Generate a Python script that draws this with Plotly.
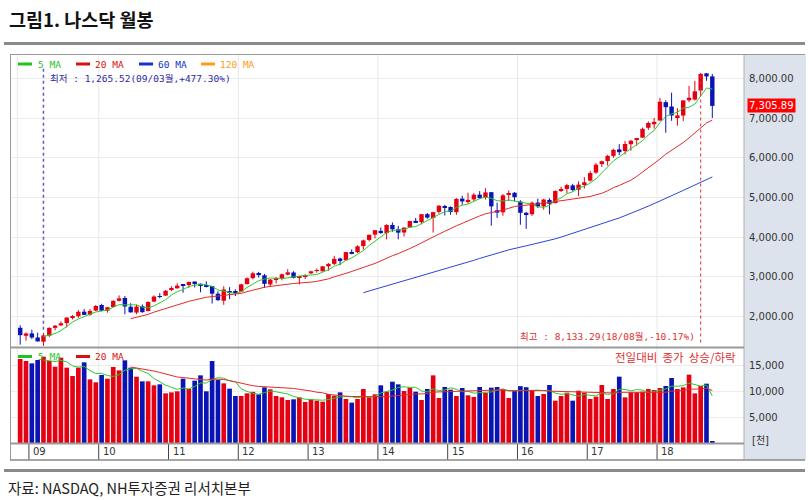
import numpy as np
import pandas as pd
import plotly.graph_objects as go

# ---------------- data ----------------
months = pd.period_range("2008-11", "2018-10", freq="M").strftime("%Y-%m").tolist()

opens = [1720.95, 1519.76, 1578.87, 1476.00, 1370.50, 1520.00, 1719.00, 1780.00, 1840.00, 1980.00,
         2012.00, 2126.00, 2050.00, 2153.00, 2294.00, 2150.00, 2242.00, 2400.00, 2471.00, 2250.00,
         2104.00, 2263.00, 2141.00, 2380.00, 2519.00, 2530.00, 2676.00, 2715.00, 2791.00, 2796.00,
         2885.00, 2830.00, 2784.00, 2771.00, 2579.00, 2402.00, 2636.00, 2636.00, 2630.00, 2820.00,
         2970.00, 3100.00, 3040.00, 2812.00, 2938.00, 2950.00, 3057.00, 3113.00, 2988.00, 3017.00,
         3091.00, 3153.00, 3144.00, 3268.00, 3329.00, 3465.00, 3420.00, 3630.00, 3623.00, 3776.00,
         3932.00, 4065.00, 4160.00, 4104.00, 4309.00, 4199.00, 4119.00, 4247.00, 4413.00, 4379.00,
         4580.00, 4484.00, 4638.00, 4785.00, 4760.00, 4631.00, 4972.00, 4899.00, 4952.00, 5072.00,
         5010.00, 5133.00, 4677.00, 4627.00, 5065.00, 5118.00, 4897.00, 4615.00, 4578.00, 4872.00,
         4779.00, 4939.00, 4857.00, 5166.00, 5215.00, 5305.00, 5197.00, 5337.00, 5425.00, 5627.00,
         5840.00, 5917.00, 6047.00, 6211.00, 6170.00, 6341.00, 6445.00, 6506.00, 6754.00, 6843.00,
         6937.00, 7399.00, 7290.00, 7000.00, 7061.00, 7447.00, 7465.00, 7692.00, 8124.00, 8048.00]
highs = [1784.39, 1603.86, 1671.29, 1597.73, 1592.11, 1734.54, 1790.93, 1877.86, 1981.36, 2041.47,
         2167.57, 2190.00, 2190.61, 2295.80, 2326.28, 2244.00, 2415.24, 2535.28, 2520.00, 2339.87,
         2303.95, 2306.00, 2389.00, 2536.53, 2592.94, 2671.48, 2766.14, 2840.51, 2799.00, 2887.75,
         2887.00, 2834.00, 2887.98, 2773.00, 2642.00, 2766.00, 2743.00, 2689.00, 2830.00, 2990.00,
         3134.17, 3128.00, 3076.00, 2945.00, 2999.00, 3085.00, 3196.93, 3146.00, 3025.00, 3068.00,
         3154.00, 3213.60, 3270.00, 3350.00, 3532.04, 3487.00, 3629.00, 3694.00, 3798.00, 3940.00,
         4069.00, 4177.00, 4246.55, 4327.00, 4371.71, 4285.00, 4247.00, 4410.00, 4486.00, 4580.00,
         4610.57, 4640.00, 4810.00, 4814.95, 4777.00, 4984.00, 5042.14, 5119.83, 5111.00, 5160.00,
         5231.94, 5138.00, 4871.00, 5087.00, 5176.77, 5139.00, 4931.00, 4640.00, 4900.00, 4969.00,
         4965.00, 4980.00, 5181.00, 5271.36, 5342.88, 5344.00, 5408.00, 5512.37, 5669.00, 5867.00,
         5928.00, 6075.00, 6229.00, 6341.70, 6422.75, 6450.00, 6500.00, 6759.00, 6914.00, 7003.89,
         7505.77, 7447.00, 7637.27, 7246.00, 7450.00, 7806.60, 7933.31, 8133.29, 8133.00, 8107.00]
lows = [1295.48, 1398.07, 1440.86, 1374.48, 1265.52, 1488.86, 1656.55, 1766.10, 1727.05, 1930.85,
        1972.50, 2041.33, 2024.04, 2140.00, 2134.57, 2100.02, 2236.00, 2380.00, 2061.14, 2104.00,
        2061.00, 2098.35, 2138.00, 2363.00, 2464.00, 2525.00, 2644.00, 2704.00, 2603.50, 2727.00,
        2735.00, 2614.00, 2736.00, 2331.00, 2398.00, 2298.89, 2441.00, 2520.00, 2625.00, 2810.00,
        2940.00, 2987.00, 2726.68, 2747.00, 2838.00, 2915.00, 3040.00, 2962.00, 2810.80, 2947.00,
        3076.00, 3105.00, 3134.00, 3154.96, 3300.00, 3294.95, 3418.00, 3570.00, 3601.00, 3687.00,
        3895.00, 3968.00, 4087.00, 3946.00, 4137.00, 3946.03, 4017.00, 4232.00, 4365.00, 4324.00,
        4464.00, 4116.60, 4594.00, 4547.00, 4563.00, 4563.00, 4818.00, 4843.00, 4899.00, 4959.00,
        4947.00, 4292.14, 4487.00, 4542.00, 4909.00, 4899.00, 4313.39, 4209.76, 4538.00, 4733.00,
        4694.00, 4574.25, 4854.00, 5137.00, 5110.00, 5154.00, 5034.41, 5226.00, 5397.00, 5593.00,
        5769.00, 5805.00, 5996.00, 6068.00, 6085.00, 6177.00, 6307.00, 6503.00, 6700.00, 6733.00,
        6932.00, 6630.67, 6930.00, 6805.00, 6923.00, 7402.00, 7439.00, 7591.00, 7937.00, 7002.00]
closes = [1535.57, 1577.03, 1476.42, 1377.84, 1528.59, 1717.30, 1774.33, 1835.04, 1978.50, 2009.06,
          2122.42, 2045.11, 2144.60, 2269.15, 2147.35, 2238.26, 2397.96, 2461.19, 2257.04, 2109.24,
          2254.70, 2114.03, 2368.62, 2507.41, 2498.23, 2652.87, 2700.08, 2782.27, 2781.07, 2873.54,
          2835.30, 2773.52, 2756.38, 2579.46, 2415.40, 2684.41, 2620.34, 2605.15, 2813.84, 2966.89,
          3091.57, 3046.36, 2827.34, 2935.05, 2939.52, 3066.96, 3116.23, 2977.23, 3010.24, 3019.51,
          3142.13, 3160.19, 3267.52, 3328.79, 3455.91, 3403.25, 3626.37, 3589.87, 3771.48, 3919.71,
          4059.89, 4176.59, 4103.88, 4308.12, 4198.99, 4114.56, 4242.62, 4408.18, 4369.77, 4580.27,
          4493.39, 4630.74, 4791.63, 4736.05, 4635.24, 4963.53, 4900.88, 4941.42, 5070.03, 4986.87,
          5128.28, 4776.51, 4620.16, 5053.75, 5108.67, 5007.41, 4613.95, 4557.95, 4869.85, 4775.36,
          4948.05, 4842.67, 5162.13, 5213.22, 5312.00, 5189.14, 5323.68, 5383.12, 5614.79, 5825.44,
          5911.74, 6047.61, 6198.52, 6140.42, 6348.12, 6428.66, 6495.96, 6727.67, 6873.97, 6903.39,
          7411.48, 7273.01, 7063.45, 7066.27, 7442.12, 7510.30, 7671.79, 8109.54, 8046.35, 7305.89]
volumes = [16150, 15770, 15320, 15960, 16600, 15770, 14680, 16410, 14490, 12880,
           14490, 15510, 12240, 11670, 13080, 12370, 14620, 13970, 15900, 14490,
           12750, 11860, 11860, 11090, 11280, 9550, 9740, 9940, 12370, 10380,
           11990, 13010, 9940, 15770, 12110, 11470, 10450, 9040, 9040, 9550,
           9840, 9360, 10700, 10320, 9040, 8780, 8270, 8400, 8780, 7880,
           8400, 8140, 7950, 9420, 9100, 9740, 8460, 7760, 8460, 10380,
           8780, 9360, 11090, 9870, 11790, 11280, 10000, 10640, 9870, 8270,
           10380, 13010, 8650, 10770, 10250, 9040, 10580, 9170, 8850, 10770,
           9620, 10640, 10770, 10280, 8650, 10000, 10930, 10730, 10190, 9040,
           9420, 11150, 8140, 9040, 9680, 8140, 10060, 9680, 8460, 8910,
           11150, 8460, 10380, 12760, 8780, 9740, 9740, 9870, 10380, 10190,
           10580, 10960, 12500, 10380, 10700, 13140, 9550, 10960, 11410, 200]
price_ticks = [2000, 3000, 4000, 5000, 6000, 7000, 8000]
volume_ticks = [5000, 10000, 15000]

# ---------------- geometry helpers ----------------
W, H = 809, 500
PL, PR, PT, PB = 10, 744, 55, 443
def fx(px): return (px - PL) / (PR - PL)
def fy(py): return (PB - py) / (PB - PT)

RED, BLUE = "#e50012", "#0a14b4"
GREEN_MA, RED_MA, BLUE_MA, ORANGE_MA = "#2fc92f", "#e42a2a", "#2a46d8", "#ff9a1a"
MONO = "DejaVu Sans Mono, Noto Sans CJK KR"
SANS = "DejaVu Sans, Noto Sans CJK KR"

o = np.array(opens); h = np.array(highs); l = np.array(lows); c = np.array(closes); v = np.array(volumes, float)
n = len(c)
k = np.arange(n)

def ma(arr, w):
    out = np.full(len(arr), np.nan)
    cs = np.convolve(arr, np.ones(w) / w, mode="valid")
    out[w - 1:] = cs
    return out

fig = go.Figure()

# wicks
up = c >= o
for mask, col in [(up, RED), (~up, BLUE)]:
    xs, ys = [], []
    for i in k[mask]:
        xs += [i, i, None]; ys += [l[i], h[i], None]
    fig.add_trace(go.Scatter(x=xs, y=ys, mode="lines", line=dict(color=col, width=1),
                             hoverinfo="skip", showlegend=False, xaxis="x", yaxis="y"))
# bodies
lo = np.minimum(o, c); hgt = np.maximum(np.abs(c - o), 18)
for mask, col in [(up, RED), (~up, BLUE)]:
    fig.add_trace(go.Bar(x=k[mask], y=hgt[mask], base=lo[mask], width=0.76,
                         marker=dict(color=col, line=dict(width=0)),
                         showlegend=False, xaxis="x", yaxis="y"))

# price moving averages
for w, col in [(5, GREEN_MA), (20, RED_MA), (60, BLUE_MA), (120, ORANGE_MA)]:
    fig.add_trace(go.Scatter(x=k, y=ma(c, w), mode="lines", line=dict(color=col, width=1),
                             showlegend=False, xaxis="x", yaxis="y", hoverinfo="skip"))

# volume bars (colour by close vs previous close)
prev = np.concatenate([[-np.inf], c[:-1]])
vup = c >= prev
for mask, col in [(vup, RED), (~vup, BLUE)]:
    fig.add_trace(go.Bar(x=k[mask], y=v[mask], width=0.8,
                         marker=dict(color=col, line=dict(width=0)),
                         showlegend=False, xaxis="x", yaxis="y2"))
for w, col in [(5, GREEN_MA), (20, RED_MA)]:
    fig.add_trace(go.Scatter(x=k, y=ma(v, w), mode="lines", line=dict(color=col, width=1),
                             showlegend=False, xaxis="x", yaxis="y2", hoverinfo="skip"))

# ---------------- shapes ----------------
shapes = []
def pline(x0, y0, x1, y1, color, width, dash=None, layer="above"):
    shapes.append(dict(type="line", xref="paper", yref="paper", x0=fx(x0), y0=fy(y0),
                       x1=fx(x1), y1=fy(y1), line=dict(color=color, width=width, dash=dash),
                       layer=layer))

# right axis panel
shapes.append(dict(type="rect", xref="paper", yref="paper", x0=fx(744), x1=fx(806),
                   y0=fy(460), y1=fy(54.5), fillcolor="#dde3ec", line=dict(width=0), layer="below"))

# year ticks / vertical grid
jan_idx = [i for i, m in enumerate(months) if m.endswith("-01")]
years = [months[i][2:4] for i in jan_idx]
grid_idx = [0] + [i for i in jan_idx if int(months[i][:4]) % 2 == 0]
for i in grid_idx:
    shapes.append(dict(type="line", xref="x", yref="paper", x0=i - 0.5, x1=i - 0.5,
                       y0=fy(443), y1=fy(55), line=dict(color="#e8e8e8", width=1), layer="below"))
for i in jan_idx:
    shapes.append(dict(type="line", xref="x", yref="paper", x0=i - 0.5, x1=i - 0.5,
                       y0=fy(444), y1=fy(460), line=dict(color="#444444", width=1)))

# frame lines
pline(4, 43.5, 805, 43.5, "#8a8a8a", 3)
pline(10, 54.5, 805, 54.5, "#9a9a9a", 1)
pline(10.5, 54.5, 10.5, 460, "#9a9a9a", 1)
pline(744, 54.5, 744, 460, "#b0b0b0", 1)
pline(10, 347.5, 744, 347.5, "#9a9a9a", 2)
pline(10, 443.5, 744, 443.5, "#9a9a9a", 2)
pline(10, 460, 805, 460, "#8a8a8a", 1.5)
pline(4, 470.5, 805, 470.5, "#8a8a8a", 3)

# legend dashes
for x0, col in [(18, "#1fc41f"), (76, "#d81010"), (139, "#1434c8"), (201, "#ff9a1a")]:
    pline(x0, 64, x0 + 14, 64, col, 3)
for x0, col in [(18, "#1fc41f"), (76, "#d81010")]:
    pline(x0, 356.5, x0 + 14, 356.5, col, 3)

# low / high markers
imin = int(np.argmin(l)); imax = int(np.argmax(h))
last = c[-1]
shapes.append(dict(type="line", xref="x", yref="y", x0=imin, x1=imin, y0=h[imin] + 80,
                   y1=8300, line=dict(color="#5a5ad0", width=1.5, dash="dot")))
shapes.append(dict(type="line", xref="x", yref="y", x0=imax, x1=imax, y0=1350,
                   y1=h[imax], line=dict(color="#e03030", width=1, dash="dot")))

# ---------------- annotations ----------------
ann = []
def ptext(x, y, text, color, size=9.5, family=MONO, xanchor="left", **kw):
    ann.append(dict(xref="paper", yref="paper", x=fx(x), y=fy(y), text=text, showarrow=False,
                    xanchor=xanchor, yanchor="middle", font=dict(color=color, size=size, family=family), **kw))

ptext(7, 19, "<b>그림1. 나스닥 월봉</b>", "#111111", 18.5, "Noto Sans CJK KR")
ptext(6, 487, "자료: NASDAQ, NH투자증권 리서치본부", "#222222", 14.5,
      "Liberation Sans Narrow, Noto Sans CJK KR")

ptext(36, 64, "5 MA", "#1fc41f"); ptext(93, 64, "20 MA", "#d81010")
ptext(156, 64, "60 MA", "#1434c8"); ptext(218, 64, "120 MA", "#ff9a1a")
ptext(36, 356.5, "5 MA", "#1fc41f"); ptext(93, 356.5, "20 MA", "#d81010")

lo_m = months[imin]; hi_m = months[imax]
ptext(48, 78, f"최저 : {l[imin]:,.2f}({lo_m[2:4]}/{lo_m[5:7]}월,{(last / l[imin] - 1) * 100:+.2f}%)", "#2b2ba8")
ptext(697, 336, f"최고 : {h[imax]:,.2f}({hi_m[2:4]}/{hi_m[5:7]}월,{(last / h[imax] - 1) * 100:+.2f}%)",
      "#e03030", xanchor="right")
ptext(738, 357, "전일대비&nbsp;&nbsp;종가&nbsp;&nbsp;상승/하락", "#e03030", 11.5, "Noto Sans CJK KR", xanchor="right")
ptext(750, 440, "[천]", "#333333", 10, SANS)

for i, yy in zip(jan_idx, years):
    ann.append(dict(xref="x", yref="paper", x=i - 0.5, y=fy(452), text=yy, showarrow=False,
                    xanchor="left", yanchor="middle", xshift=2,
                    font=dict(color="#333333", size=10, family=SANS)))

ann.append(dict(xref="paper", yref="y", x=fx(747), y=last, text=f"{last:,.2f}", showarrow=False,
                xanchor="left", yanchor="middle", bgcolor="#ff0000", borderpad=1,
                font=dict(color="white", size=10, family=SANS)))

# ---------------- layout ----------------
fig.update_layout(
    width=W, height=H, margin=dict(l=PL, r=W - PR, t=PT, b=H - PB),
    paper_bgcolor="white", plot_bgcolor="white", barmode="overlay", showlegend=False,
    xaxis=dict(range=[(PL - 20.2) / 5.816, (PR - 20.2) / 5.816], showgrid=False, zeroline=False,
               showticklabels=False, ticks="", anchor="y2", fixedrange=True),
    yaxis=dict(domain=[fy(347), 1], range=[1237, 8586], side="right", tickvals=price_ticks,
               tickformat=",.2f", showgrid=True, gridcolor="#ececec", zeroline=False, ticks="",
               ticklabelstandoff=4, tickfont=dict(family=SANS, size=10, color="#333333")),
    yaxis2=dict(domain=[0, fy(349)], range=[0, 18077], side="right", tickvals=volume_ticks,
                tickformat=",d", showgrid=True, gridcolor="#ececec", zeroline=False, ticks="",
                ticklabelstandoff=4, tickfont=dict(family=SANS, size=10, color="#333333"),
                anchor="x"),
    shapes=shapes, annotations=ann,
)

fig.write_html("out.html", config={"displayModeBar": False},
               post_script="document.body.style.margin='0px';document.body.style.overflow='hidden';")
